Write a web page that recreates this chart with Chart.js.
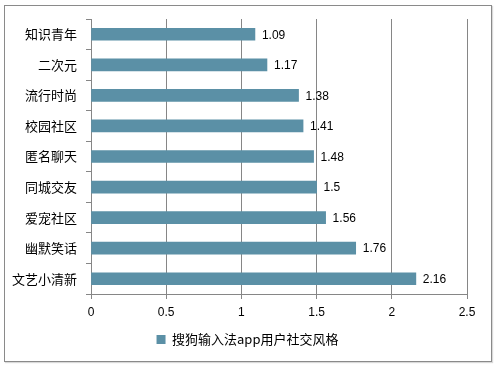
<!DOCTYPE html>
<html>
<head>
<meta charset="utf-8">
<script src="https://cdn.jsdelivr.net/npm/chart.js@4/dist/chart.umd.min.js"></script>
<style>
html,body{margin:0;padding:0;background:#fff;}
#wrap{position:relative;width:496px;height:366px;}
#frame{position:absolute;left:4px;top:5px;width:486px;height:355px;border:1px solid #8a8a8a;box-shadow:1px 1px 1px rgba(0,0,0,0.15);pointer-events:none;}
canvas{position:absolute;left:0;top:0;}
</style>
</head>
<body>
<div id="wrap">
<canvas id="c" width="496" height="366"></canvas>
<div id="frame"></div>
</div>
<script>
const categories = ['知识青年','二次元','流行时尚','校园社区','匿名聊天','同城交友','爱宠社区','幽默笑话','文艺小清新'];
const values = [1.09, 1.17, 1.38, 1.41, 1.48, 1.5, 1.56, 1.76, 2.16];
const seriesName = '搜狗输入法app用户社交风格';
const xTicks = [0, 0.5, 1, 1.5, 2, 2.5];

const FONT = '"Noto Sans CJK SC", "Noto Sans", sans-serif';
const GRAY = '#868686';

const valueLabels = {
  id: 'valueLabels',
  afterLayout(chart) {
    if (chart.legend) { chart.legend.left += 14; chart.legend.right += 14; }
  },
  afterDatasetsDraw(chart) {
    const ctx = chart.ctx;
    const meta = chart.getDatasetMeta(0);
    ctx.save();
    ctx.font = '12px "Liberation Sans", "Noto Sans", sans-serif';
    ctx.fillStyle = '#000';
    ctx.textAlign = 'left';
    ctx.textBaseline = 'middle';
    meta.data.forEach((bar, i) => {
      ctx.fillText(String(values[i]), bar.x + 7, bar.y + 1);
    });
    ctx.restore();
  }
};

new Chart(document.getElementById('c'), {
  type: 'bar',
  data: {
    labels: categories,
    datasets: [{
      label: seriesName,
      data: values,
      backgroundColor: '#5b90a6',
      borderWidth: 0,
      barThickness: 12
    }]
  },
  options: {
    indexAxis: 'y',
    responsive: false,
    animation: false,
    devicePixelRatio: 1,
    layout: { padding: { left: 0, right: 29, top: 19, bottom: 10 } },
    scales: {
      x: {
        min: 0, max: 2.5,
        afterBuildTicks(scale) { scale.ticks = xTicks.map(v => ({ value: v })); },
        afterFit(scale) { scale.height = 33; },
        grid: { color: GRAY, lineWidth: 1, drawTicks: true, tickLength: 5, tickColor: GRAY },
        border: { display: true, color: GRAY, width: 1 },
        ticks: { color: '#000', font: { family: '"Liberation Sans", sans-serif', size: 12 }, padding: 6, callback: (v) => String(v) }
      },
      y: {
        afterFit(scale) { scale.width = 91; },
        grid: { display: true, drawOnChartArea: false, drawTicks: true, tickLength: 5, offset: true, color: GRAY, tickColor: GRAY },
        border: { display: true, color: GRAY, width: 1 },
        ticks: { color: '#000', font: { family: FONT, size: 13 }, padding: 9 }
      }
    },
    plugins: {
      legend: {
        position: 'bottom',
        labels: {
          color: '#000',
          font: { family: FONT, size: 13 },
          boxWidth: 9, boxHeight: 9, padding: 6
        }
      },
      tooltip: { enabled: false }
    }
  },
  plugins: [valueLabels]
});
</script>
</body>
</html>
